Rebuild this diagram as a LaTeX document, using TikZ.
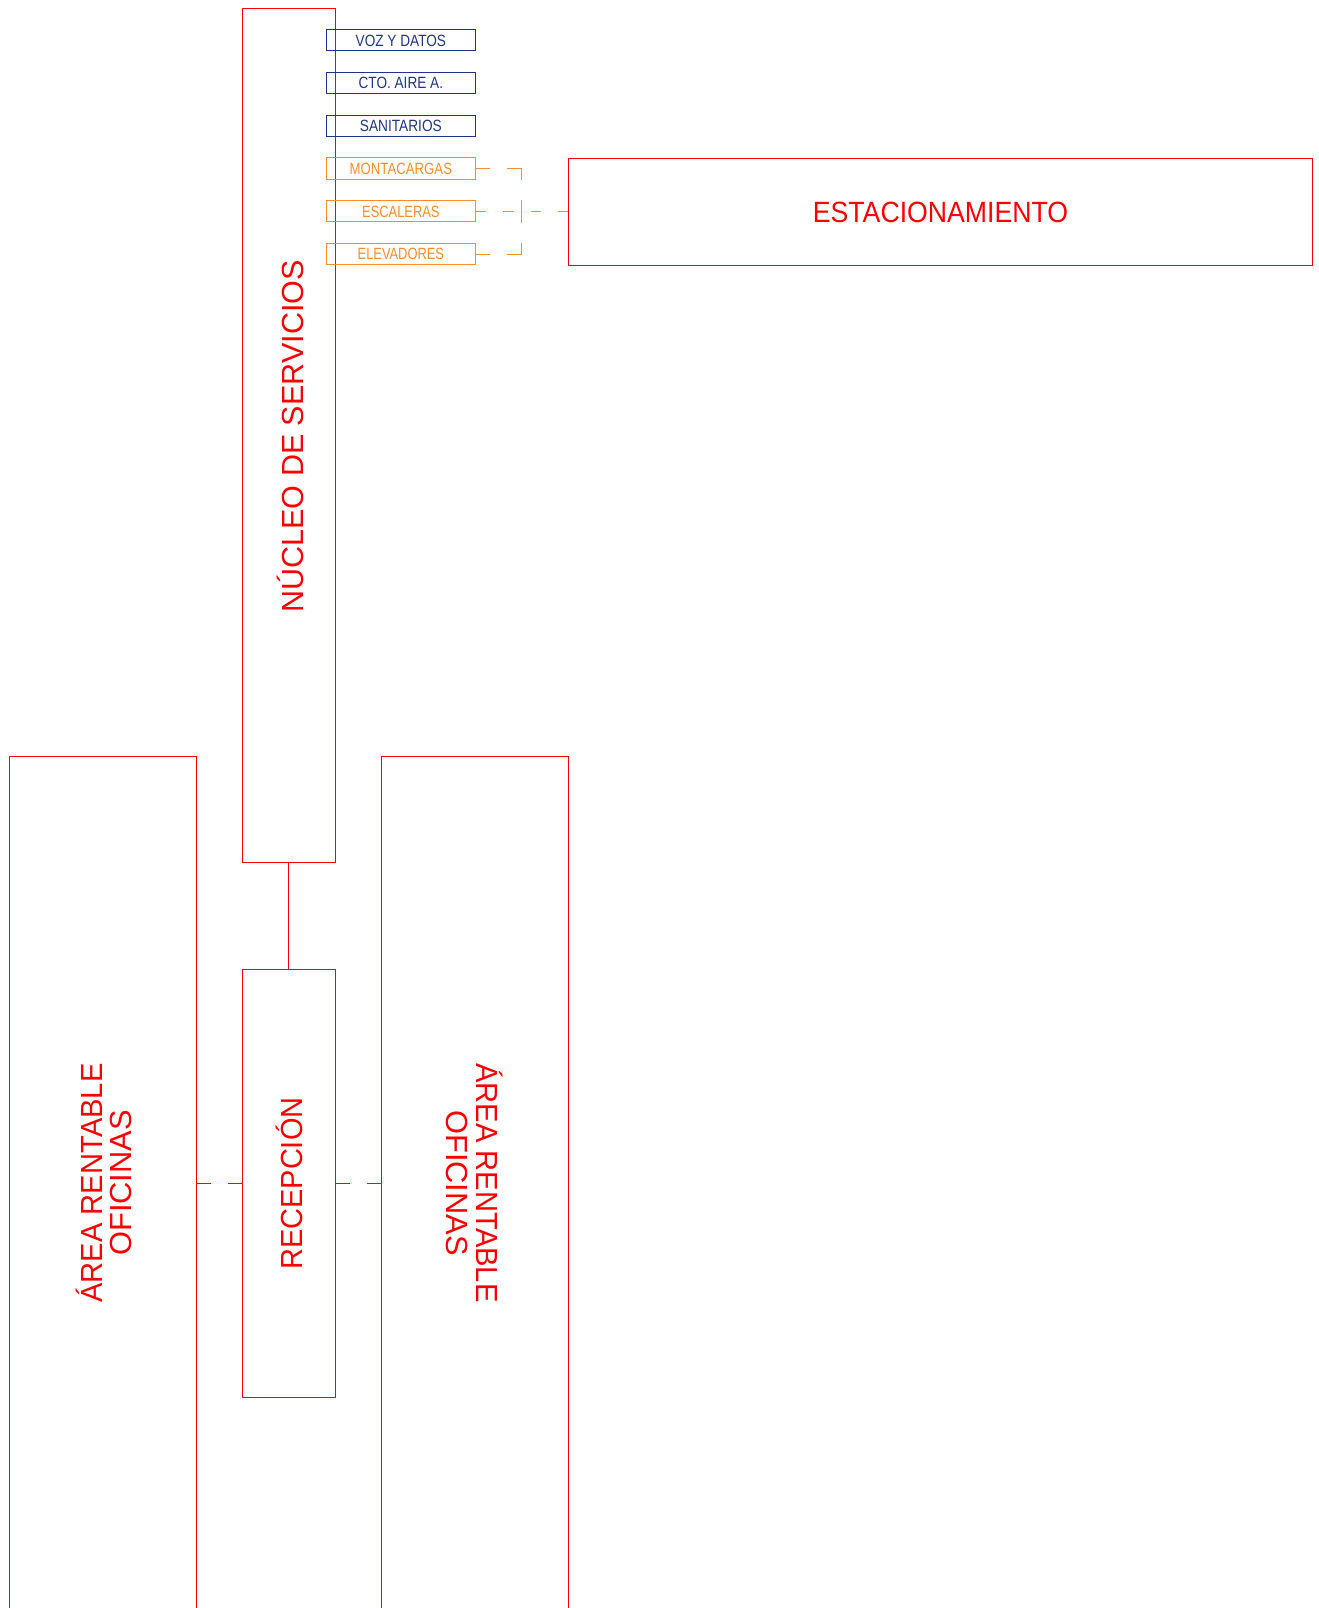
\documentclass[tikz,border=0pt]{standalone}
\usepackage{fontspec}
\setmainfont{Liberation Sans}
\definecolor{cred}{RGB}{255,0,0}
\definecolor{cblue}{RGB}{31,52,140}
\definecolor{corange}{RGB}{255,140,40}
\begin{document}
\begin{tikzpicture}[x=1pt,y=-1pt,line width=1pt,
  box/.style={draw,inner sep=0pt,outer sep=0pt,anchor=center},
  redbox/.style={box,draw=cred},
  smallbox/.style={box,minimum width=149.7pt,minimum height=21.4pt,
    font=\fontsize{16.3}{16.3}\selectfont,text height=11.67pt,text depth=0pt},
  bluebox/.style={smallbox,draw=cblue,text=cblue},
  orangebox/.style={smallbox,draw=corange,text=corange},
  bigtext/.style={text=cred,inner sep=0pt,font=\fontsize{30.5}{29.5}\selectfont,align=center},
  onetext/.style={bigtext,text height=21.8pt,text depth=0pt},
  rdash/.style={draw=cred,dash pattern=on 14.5pt off 17pt},
  odash/.style={draw=corange,dash pattern=on 14.5pt off 17pt},
  ovdash/.style={draw=corange,dash pattern=on 23pt off 20pt,dash phase=11.5pt},
  oldash/.style={draw=corange,dash pattern=on 10.4pt off 17pt}]
\useasboundingbox (0,0) rectangle (1319,1608);
\clip (0,0) rectangle (1319,1608);
% main boxes
\node[redbox,minimum width=93.5pt,minimum height=854.3pt] (nucleo) at (288.75,435.45) {};
\node[redbox,minimum width=93.5pt,minimum height=427.7pt] (recep) at (288.75,1183.15) {};
\node[redbox,minimum width=186.6pt,minimum height=864pt] (areaL) at (102.7,1188) {};
\node[redbox,minimum width=186.7pt,minimum height=864pt] (areaR) at (474.85,1188) {};
\node[redbox,minimum width=744.4pt,minimum height=106.7pt] (estac) at (940.5,211.65) {};
% small boxes
\node[bluebox] (voz) at (400.85,40.3) {\scalebox{0.835}[1]{VOZ Y DATOS}};
\node[bluebox] (cto) at (400.85,83.04) {\scalebox{0.835}[1]{CTO. AIRE A.}};
\node[bluebox] (san) at (400.85,125.78) {\scalebox{0.84}[1]{SANITARIOS}};
\node[orangebox] (mont) at (400.85,168.52) {\scalebox{0.81}[1]{MONTACARGAS}};
\node[orangebox] (esc) at (400.85,211.26) {\scalebox{0.79}[1]{ESCALERAS}};
\node[orangebox] (elev) at (400.85,254.0) {\scalebox{0.79}[1]{ELEVADORES}};
% labels
\node[onetext,rotate=90] (tnuc) at (292.5,436.4) {NÚCLEO DE SERVICIOS};
\node[onetext,font=\fontsize{29.3}{29.3}\selectfont,text height=21pt] (test) at (estac.center) {\scalebox{0.91}[1]{ESTACIONAMIENTO}};
\node[onetext,rotate=90] (trec) at (292,1183.6) {\scalebox{0.95}[1]{RECEPCIÓN}};
\node[bigtext,rotate=90] (tareaL) at (104,1183) {\scalebox{0.955}[1]{ÁREA RENTABLE}\\\scalebox{1.01}[1]{OFICINAS}};
\node[bigtext,rotate=-90] (tareaR) at (474.5,1183) {\scalebox{0.955}[1]{ÁREA RENTABLE}\\\scalebox{1.01}[1]{OFICINAS}};
% connectors
\coordinate (jn) at (521.7,211.35);
\draw[draw=cred] (nucleo.south) -- (recep.north);
\draw[rdash] (recep.west -| areaL.east) -- (recep.west);
\draw[rdash] (recep.east) -- (recep.east -| areaR.west);
\draw[odash] (mont.east) -- (mont.east -| jn);
\draw[odash] (elev.east) -- (elev.east -| jn);
\draw[ovdash] (mont.east -| jn) -- (elev.east -| jn);
\draw[oldash] (esc.east) -- (esc.east -| estac.west);
\end{tikzpicture}
\end{document}
